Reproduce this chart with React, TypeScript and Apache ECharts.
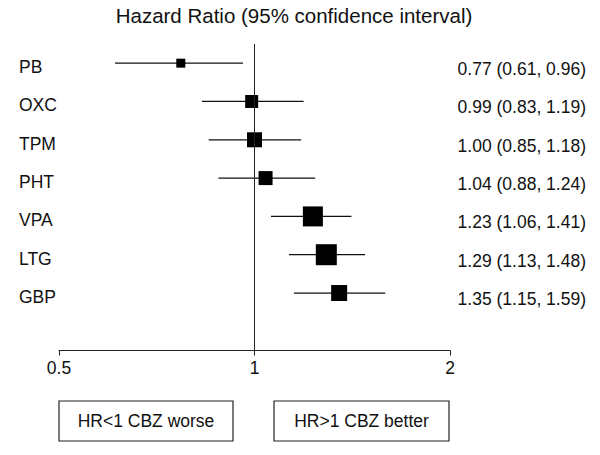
import React, { useEffect, useRef } from "react";
import * as echarts from "echarts";

const drugs = ["PB", "OXC", "TPM", "PHT", "VPA", "LTG", "GBP"];
const hr = [0.77, 0.99, 1.0, 1.04, 1.23, 1.29, 1.35];
const ciLow = [0.61, 0.83, 0.85, 0.88, 1.06, 1.13, 1.15];
const ciHigh = [0.96, 1.19, 1.18, 1.24, 1.41, 1.48, 1.59];
const boxSizes = [9, 13, 15, 14, 20, 21, 16];
const xTicks = [0.5, 1, 2];
const titleText = "Hazard Ratio (95% confidence interval)";
const leftNote = "HR<1 CBZ worse";
const rightNote = "HR>1 CBZ better";

const FONT = "'Liberation Sans', Arial, Helvetica, sans-serif";

export default function App() {
  const ref = useRef<HTMLDivElement>(null);
  useEffect(() => {
    if (!ref.current) return;
    const chart = echarts.init(ref.current, null, { renderer: "svg" });
    const rightLabels = drugs.map(
      (_, i) => `${hr[i].toFixed(2)} (${ciLow[i].toFixed(2)}, ${ciHigh[i].toFixed(2)})`
    );
    const cats = [...drugs, ""];
    const rightCats = [...rightLabels, ""];
    const option: any = {
      animation: false,
      backgroundColor: "#ffffff",
      textStyle: { fontFamily: FONT },
      title: {
        text: titleText,
        left: 289,
        textAlign: "center",
        top: 0,
        textStyle: { fontSize: 20.5, fontWeight: "normal", color: "#111", fontFamily: FONT },
      },
      grid: { left: 59, right: 150, top: 44, bottom: 104.5 },
      xAxis: {
        type: "log",
        logBase: 2,
        min: xTicks[0],
        max: xTicks[xTicks.length - 1],
        axisLine: { show: true, lineStyle: { color: "#222", width: 1 } },
        axisTick: { show: true, length: 5, inside: false, lineStyle: { color: "#222" } },
        axisLabel: {
          fontSize: 17.5,
          color: "#111",
          margin: 8,
          fontFamily: FONT,
          formatter: (v: number) => String(v),
        },
        splitLine: { show: false },
      },
      yAxis: [
        {
          type: "category",
          data: cats,
          inverse: true,
          position: "left",
          axisLine: { show: false },
          axisTick: { show: false },
          splitLine: { show: false },
          axisLabel: {
            align: "left",
            verticalAlign: "top",
            lineHeight: 8,
            margin: 40,
            fontSize: 17.5,
            color: "#111",
            fontFamily: FONT,
          },
        },
        {
          type: "category",
          data: rightCats,
          inverse: true,
          position: "right",
          axisLine: { show: false },
          axisTick: { show: false },
          splitLine: { show: false },
          axisLabel: {
            align: "right",
            verticalAlign: "top",
            lineHeight: 12,
            margin: 136,
            fontSize: 17.5,
            color: "#111",
            fontFamily: FONT,
          },
        },
      ],
      series: [
        {
          type: "custom",
          yAxisIndex: 0,
          z: 2,
          data: drugs.map((_, i) => [ciLow[i], ciHigh[i], i]),
          encode: { x: [0, 1], y: 2 },
          renderItem: (params: any, api: any) => {
            const p1 = api.coord([api.value(0), api.value(2)]);
            const p2 = api.coord([api.value(1), api.value(2)]);
            return {
              type: "line",
              shape: { x1: p1[0], y1: p1[1], x2: p2[0], y2: p2[1] },
              style: { stroke: "#111", lineWidth: 1.3 },
            };
          },
        },
        {
          type: "scatter",
          yAxisIndex: 0,
          z: 3,
          symbol: "rect",
          itemStyle: { color: "#000", opacity: 1 },
          data: drugs.map((_, i) => ({ value: [hr[i], i], symbolSize: boxSizes[i] })),
          markLine: {
            silent: true,
            symbol: "none",
            label: { show: false },
            lineStyle: { color: "#222", width: 1, type: "solid" },
            data: [{ xAxis: 1 }],
          },
        },
      ],
      graphic: [
        {
          type: "rect",
          x: 59,
          y: 401,
          shape: { x: 0, y: 0, width: 174, height: 40 },
          style: { fill: "none", stroke: "#222", lineWidth: 1.2 },
        },
        {
          type: "text",
          x: 146,
          y: 421,
          style: {
            text: leftNote,
            fill: "#111",
            fontSize: 17.5,
            fontFamily: FONT,
            align: "center",
            verticalAlign: "middle",
          },
        },
        {
          type: "rect",
          x: 274,
          y: 401,
          shape: { x: 0, y: 0, width: 175, height: 40 },
          style: { fill: "none", stroke: "#222", lineWidth: 1.2 },
        },
        {
          type: "text",
          x: 361.5,
          y: 421,
          style: {
            text: rightNote,
            fill: "#111",
            fontSize: 17.5,
            fontFamily: FONT,
            align: "center",
            verticalAlign: "middle",
          },
        },
      ],
    };
    chart.setOption(option);
    return () => chart.dispose();
  }, []);
  return <div ref={ref} style={{ width: 600, height: 455, margin: -8 }} />;
}
